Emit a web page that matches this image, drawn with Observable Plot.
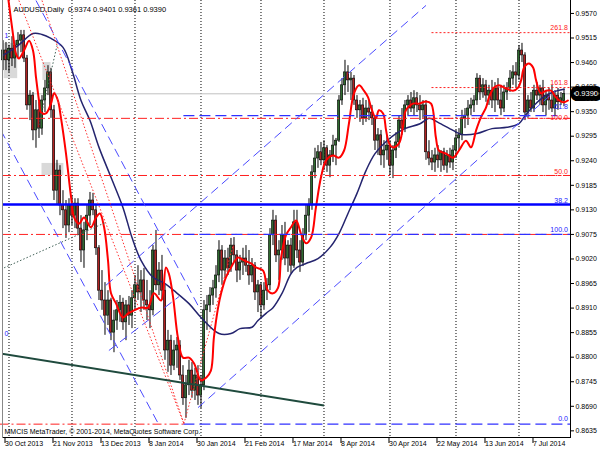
<!DOCTYPE html>
<html><head><meta charset="utf-8">
<script src="https://cdn.jsdelivr.net/npm/d3@7"></script>
<script src="https://cdn.jsdelivr.net/npm/@observablehq/plot@0.6"></script>
<style>
html,body{margin:0;padding:0;background:#fff;}
#chart{width:600px;height:450px;overflow:hidden;}
</style></head><body><div id="chart"></div>
<script>
// ---- daily OHLC, AUDUSD (bar index 0 = 30 Oct 2013) ----
const opens = [.9465,.9487,.9465,.9491,.9469,.9498,.9509,.9521,.9469,.9364,.9386,.9308,.9353,.9312,.9375,.9402,.9438,.9353,.9173,.9218,
.9140,.9129,.9095,.9140,.9117,.9144,.9088,.9039,.9084,.9117,.9151,.9129,.9044,.8949,.8927,.8893,.8927,.8855,.8882,.8905,
.8922,.8878,.8916,.8893,.8932,.8961,.8945,.8972,.8927,.8916,.8905,.9039,.8961,.8994,.8949,.8815,.8837,.8781,.8815,.8826,
.8759,.8708,.8737,.8770,.8725,.8759,.8714,.8737,.8905,.8916,.8938,.8954,.8983,.9039,.8994,.9021,.8999,.9050,.9028,.8994,
.9012,.9021,.9005,.8983,.9005,.8945,.8961,.8916,.8949,.8961,.9073,.9106,.9028,.9039,.9073,.9021,.9050,.9005,.9102,.9039,
.9012,.9073,.9117,.9140,.9214,.9245,.9259,.9241,.9268,.9229,.9252,.9274,.9285,.9375,.9409,.9438,.9420,.9424,.9375,.9353,
.9364,.9335,.9357,.9348,.9335,.9285,.9297,.9252,.9263,.9274,.9229,.9263,.9281,.9330,.9312,.9364,.9375,.9357,.9380,.9364,
.9353,.9364,.9259,.9245,.9236,.9252,.9241,.9259,.9229,.9252,.9236,.9263,.9290,.9297,.9335,.9341,.9357,.9364,.9375,.9424,
.9393,.9409,.9386,.9397,.9375,.9402,.9375,.9357,.9393,.9402,.9424,.9438,.9431,.9487,.9476,.9348,.9375,.9357,.9397,.9386,
.9402,.9364,.9386,.9375,.9357,.9386,.9371,.9374];
const highs = [.9509,.9505,.9498,.9518,.9509,.9527,.9532,.9532,.9476,.9397,.9393,.9375,.9371,.9386,.9420,.9453,.9447,.9364,.9241,.9229,
.9173,.9151,.9155,.9162,.9155,.9155,.9117,.9102,.9140,.9169,.9167,.9140,.9050,.8994,.8967,.8949,.8932,.8905,.8927,.8938,
.8932,.8927,.8936,.8949,.8983,.9005,.8994,.8999,.8972,.8949,.9050,.9084,.9012,.9028,.8961,.8860,.8849,.8837,.8844,.8837,
.8781,.8759,.8793,.8788,.8775,.8781,.8759,.8927,.8938,.8956,.8972,.9005,.9061,.9050,.9039,.9044,.9066,.9068,.9039,.9028,
.9044,.9050,.9039,.9021,.9012,.8972,.8967,.8967,.8976,.9088,.9129,.9117,.9061,.9095,.9102,.9061,.9066,.9129,.9129,.9061,
.9088,.9140,.9155,.9229,.9268,.9274,.9281,.9285,.9274,.9263,.9297,.9290,.9386,.9424,.9465,.9453,.9438,.9431,.9386,.9375,
.9380,.9375,.9375,.9364,.9341,.9312,.9308,.9285,.9297,.9285,.9274,.9303,.9341,.9357,.9375,.9386,.9393,.9397,.9393,.9386,
.9375,.9375,.9285,.9263,.9268,.9274,.9263,.9268,.9263,.9268,.9274,.9308,.9312,.9353,.9357,.9375,.9380,.9386,.9435,.9431,
.9424,.9420,.9409,.9420,.9415,.9424,.9409,.9409,.9415,.9442,.9453,.9460,.9498,.9503,.9482,.9386,.9393,.9409,.9415,.9409,
.9420,.9397,.9402,.9409,.9397,.9402,.9393,.9401];
const lows = [.9442,.9442,.9438,.9451,.9447,.9469,.9482,.9460,.9353,.9330,.9285,.9268,.9290,.9297,.9348,.9386,.9335,.9151,.9140,.9117,
.9088,.9066,.9079,.9095,.9088,.9073,.9012,.8999,.9061,.9095,.9117,.9028,.8927,.8905,.8849,.8871,.8837,.8810,.8860,.8878,
.8860,.8837,.8871,.8864,.8905,.8927,.8900,.8905,.8882,.8864,.8893,.8949,.8938,.8927,.8793,.8766,.8759,.8770,.8775,.8748,
.8692,.8663,.8714,.8708,.8703,.8692,.8685,.8725,.8860,.8900,.8916,.8932,.8967,.8961,.8976,.8983,.8990,.9012,.8967,.8972,
.8983,.8990,.8961,.8967,.8927,.8900,.8887,.8905,.8927,.8949,.9050,.9012,.8972,.9017,.9005,.8990,.8987,.8999,.9021,.8990,
.9003,.9061,.9079,.9129,.9200,.9223,.9229,.9218,.9214,.9202,.9236,.9229,.9281,.9364,.9386,.9393,.9375,.9364,.9335,.9326,
.9319,.9326,.9330,.9319,.9263,.9252,.9229,.9223,.9241,.9207,.9200,.9245,.9268,.9297,.9303,.9341,.9348,.9341,.9348,.9330,
.9335,.9241,.9229,.9218,.9214,.9223,.9214,.9218,.9212,.9223,.9218,.9245,.9263,.9285,.9312,.9319,.9341,.9348,.9364,.9375,
.9380,.9371,.9364,.9357,.9348,.9364,.9341,.9348,.9375,.9393,.9409,.9402,.9420,.9460,.9330,.9335,.9348,.9348,.9375,.9364,
.9348,.9341,.9353,.9348,.9341,.9353,.9364,.9361];
const closes = [.9487,.9465,.9491,.9469,.9498,.9509,.9521,.9469,.9364,.9386,.9308,.9353,.9312,.9375,.9402,.9438,.9353,.9173,.9218,.9140,
.9129,.9095,.9140,.9117,.9144,.9088,.9039,.9084,.9117,.9151,.9129,.9044,.8949,.8927,.8893,.8927,.8855,.8882,.8905,.8922,
.8878,.8916,.8893,.8932,.8961,.8945,.8972,.8927,.8916,.8905,.9039,.8961,.8994,.8949,.8815,.8837,.8781,.8815,.8826,.8759,
.8708,.8737,.8770,.8725,.8759,.8714,.8737,.8905,.8916,.8938,.8954,.8983,.9039,.8994,.9021,.8999,.9050,.9028,.8994,.9012,
.9021,.9005,.8983,.9005,.8945,.8961,.8916,.8949,.8961,.9073,.9106,.9028,.9039,.9073,.9021,.9050,.9005,.9102,.9039,.9012,
.9073,.9117,.9140,.9214,.9245,.9259,.9241,.9268,.9229,.9252,.9274,.9285,.9375,.9409,.9438,.9420,.9424,.9375,.9353,.9364,
.9335,.9357,.9348,.9335,.9285,.9297,.9252,.9263,.9274,.9229,.9263,.9281,.9330,.9312,.9364,.9375,.9357,.9380,.9364,.9353,
.9364,.9259,.9245,.9236,.9252,.9241,.9259,.9229,.9252,.9236,.9263,.9290,.9297,.9335,.9341,.9357,.9364,.9375,.9424,.9393,
.9409,.9386,.9397,.9375,.9402,.9375,.9357,.9393,.9402,.9424,.9438,.9431,.9487,.9476,.9348,.9375,.9357,.9397,.9386,.9402,
.9364,.9386,.9375,.9357,.9386,.9371,.9380,.9390];

// ---- axis labels ----
const dateLabelBars = [0,16,32,48,64,80,96,112,128,144,160,176];
const dateLabels = ["30 Oct 2013","21 Nov 2013","13 Dec 2013","8 Jan 2014","30 Jan 2014","21 Feb 2014","17 Mar 2014","8 Apr 2014","30 Apr 2014","22 May 2014","13 Jun 2014","7 Jul 2014"];
const monthStartBars = [2,23,44,66,86,107,129,151,172];
const priceTicks = [0.8635,0.8690,0.8745,0.8800,0.8855,0.8910,0.8965,0.9020,0.9075,0.9130,0.9185,0.9240,0.9295,0.9350,0.9405,0.9460,0.9515,0.9570];

// ---- moving averages (bar, value) ----
const slowBars = [0,5,10,13,16,20,23,26,29,32,36,40,43,46,50,54,57,62,66,72,76,79,83,85,88,90,93,96,98,101,105,109,112,115,118,121,124,128,131,134,139,142,145,150,153,158,163,168,172,174,177,180,183,187];
const slowVals = [.9476,.9498,.9525,.9523,.9514,.9494,.9442,.9375,.9330,.9270,.9203,.9135,.9068,.9017,.8979,.8965,.8949,.8920,.8889,.8853,.8853,.8864,.8867,.8882,.8900,.8911,.8943,.8987,.9001,.9010,.9021,.9046,.9077,.9122,.9167,.9218,.9256,.9285,.9301,.9312,.9323,.9335,.9326,.9308,.9299,.9301,.9312,.9315,.9323,.9341,.9364,.9382,.9393,.9400];
const fastBars = [1.7,3.3,4.3,5.3,7,8.7,10,11,12,12.7,14.3,16,17,18.3,19.3,21,22.7,23.7,25.3,27,29.3,31,32.3,33.7,35,36,37.7,40,41.7,43.7,46,48.3,50.3,52.7,54.3,55.3,56.7,58.3,60,62,63.7,66,67.7,69.3,70.3,71.7,72.7,74.3,76,78.3,80.3,82.7,84.3,86.7,88.3,90,91.7,92.7,94.3,96,97.7,99.3,101,102.7,104.3,106,107.7,110,112,113.7,115.3,117,118.7,120.3,121.7,122.7,124.3,125.3,126.7,127.7,128.7,130,132,133.3,134.3,136.7,138.7,141,142.7,144.3,145.3,147.7,150,152,154.3,156,157.7,159.3,161,162,163.7,165.3,167.7,170,171.7,172.7,173.7,175.3,176.7,177.7,179.3,181,182.7,184.3,186.7,188.3];
const fastVals = [.9606,.9525,.9480,.9469,.9487,.9509,.9487,.9427,.9375,.9348,.9346,.9368,.9391,.9375,.9337,.9256,.9158,.9113,.9099,.9113,.9091,.9113,.9122,.9091,.9017,.8943,.8920,.8889,.8898,.8905,.8911,.8911,.8943,.8927,.9001,.8987,.8934,.8844,.8799,.8799,.8786,.8748,.8754,.8770,.8844,.8911,.8943,.8979,.9001,.9023,.9017,.9010,.9001,.8994,.8949,.8943,.8956,.9023,.9073,.9091,.9106,.9077,.9055,.9068,.9135,.9203,.9241,.9252,.9247,.9263,.9323,.9391,.9409,.9397,.9382,.9359,.9335,.9353,.9346,.9308,.9279,.9270,.9279,.9315,.9353,.9368,.9368,.9373,.9368,.9292,.9263,.9256,.9247,.9263,.9285,.9270,.9308,.9337,.9359,.9382,.9404,.9409,.9402,.9397,.9404,.9420,.9449,.9458,.9449,.9420,.9391,.9397,.9397,.9382,.9371,.9375];

// ---- chart objects: [bar1, price1, bar2, price2] ----
const channelLines = [[-0.7,.9308,51.7,.8652],[11,.9599,65,.8916],[34.3,.8961,141,.9588],[35.3,.8815,58.7,.8936],[65,.8687,184,.9396]];
const fanLines = [[5.3,.9599,60.3,.8651],[13,.9599,60.3,.8651],[60.3,.8651,76.7,.9050]];
const dottedLines = [[-0.7,.8997,34.3,.9102],[11.7,.9312,18,.9498]];
const solidLines = [[-0.7,.8808,107,.8692]];
const boxes = [[0.4,.9503,4.9,.9424],[13.3,.9460,16,.9420],[13,.9234,20.3,.9207]];

// ---- horizontal levels ----
const blueSolidLevel = 0.9142;
const redDashDotLevels = [.9335,.9207,.9075];
const redDashDotLow = 0.8650;
const blueDashLevels = [.9341,.9075,.8650];
const redDotLevels = [.9527,.9404];
const fibLabels = ["261.8","161.8","61.8","100.0","50.0","38.2","100.0","0.0"];
const fibLabelPrices = [.9527,.9404,.9341,.9335,.9207,.9142,.9075,.8650];
const fibLabelColors = ["#ff2020","#ff2020","#2020ff","#ff2020","#ff2020","#2020ff","#2020ff","#2020ff"];
const fibLabelShift = [-5,-5,-9,-1,-4,-4,-5,-5];
const bid = 0.9390;
const title = "AUDUSD,Daily  0.9374 0.9401 0.9361 0.9390";
const copyright = "MMCIS MetaTrader, \u00a9 2001-2014, MetaQuotes Software Corp.";

const bars = opens.map((o,i)=>({i,o,h:highs[i],l:lows[i],c:closes[i]}));
const slow = slowBars.map((b,i)=>({b,v:slowVals[i]}));
const fast = fastBars.map((b,i)=>({b,v:fastVals[i]}));
const seg = a => a.map(([x1,y1,x2,y2])=>({x1,y1,x2,y2}));
const fibs = fibLabels.map((t,k)=>({t,p:fibLabelPrices[k],c:fibLabelColors[k],dy:fibLabelShift[k]}));

const FONT = "'Liberation Sans', Arial, sans-serif";
const chart = Plot.plot({
  width: 600, height: 450,
  marginLeft: 2, marginRight: 30, marginTop: 0, marginBottom: 13,
  style: {fontFamily: FONT, fontSize: "7px", background: "#fff", color: "#000", overflow: "visible"},
  x: {type: "linear", domain: [-1/6, 189.1667], axis: null},
  y: {type: "linear", domain: [0.86201, 0.9599], axis: null},
  marks: [
    Plot.rect(boxes, {x1: d=>d[0], x2: d=>d[2], y1: d=>d[1], y2: d=>d[3], fill: "#d9d9d9"}),
    Plot.ruleX(monthStartBars, {stroke: "#000", strokeWidth: 1, strokeDasharray: "1,2"}),
    Plot.ruleY([bid], {stroke: "#c0c0c0", strokeWidth: 1}),
    // candles
    Plot.ruleX(bars, {x: "i", y1: "l", y2: "h", stroke: "#000", strokeWidth: 1}),
    Plot.rect(bars, {x1: d=>d.i-0.36, x2: d=>d.i+0.36, y1: "o", y2: "c",
      fill: d => d.c >= d.o ? "#2f6b2f" : "#b22222", stroke: "#000", strokeWidth: 0.6}),
    // moving averages
    Plot.line(slow, {x: "b", y: "v", stroke: "#24246e", strokeWidth: 1.5, curve: "catmull-rom", clip: true}),
    Plot.line(fast, {x: "b", y: "v", stroke: "#ff0000", strokeWidth: 2, curve: "catmull-rom", clip: true}),
    // horizontal levels
    Plot.ruleY(redDashDotLevels, {stroke: "#ff2020", strokeWidth: 1, strokeDasharray: "9,3,2,3"}),
    Plot.ruleY([redDashDotLow], {x1: -1, x2: 60.3, stroke: "#ff2020", strokeWidth: 1, strokeDasharray: "9,3,2,3"}),
    Plot.ruleY(blueDashLevels, {x1: 60.3, x2: d => d > 0.93 ? 185 : 189.2, stroke: "#3030ff", strokeWidth: 1.3, strokeDasharray: "11,5"}),
    Plot.ruleY(redDotLevels.concat(redDashDotLevels.slice(0,2)), {x1: 143, x2: 189.2, stroke: "#ff2020", strokeWidth: 1, strokeDasharray: "2,2"}),
    Plot.ruleY([blueSolidLevel], {stroke: "#0000ff", strokeWidth: 2.5}),
    // trend lines
    Plot.link(seg(channelLines), {x1:"x1", y1:"y1", x2:"x2", y2:"y2", stroke: "#4a4aff", strokeWidth: 1, strokeDasharray: "9,5", clip: true}),
    Plot.link(seg(fanLines), {x1:"x1", y1:"y1", x2:"x2", y2:"y2", stroke: "#ff3030", strokeWidth: 1, strokeDasharray: "1.5,2", clip: true}),
    Plot.link(seg(dottedLines), {x1:"x1", y1:"y1", x2:"x2", y2:"y2", stroke: "#3f5f55", strokeWidth: 1, strokeDasharray: "1.5,2", clip: true}),
    Plot.link(seg(solidLines), {x1:"x1", y1:"y1", x2:"x2", y2:"y2", stroke: "#1f4a3d", strokeWidth: 2, clip: true}),
    // fib labels
    ...fibs.map(f => Plot.text([f], {x: 188.3, y: "p", text: "t", fill: f.c, textAnchor: "end", dy: f.dy, fontSize: 7})),
    Plot.text([{t:"1",p:.9521},{t:"0",p:.8853}], {x: 0.5, y: "p", text: "t", fill: "#2020ff", textAnchor: "start", fontSize: 7}),
    // texts
    Plot.text([title], {frameAnchor: "top-left", dx: 11, dy: 9, textAnchor: "start", lineAnchor: "middle", fill: "#000", fontSize: 7.5}),
    Plot.text([copyright], {frameAnchor: "bottom-left", dx: 2, dy: -6, textAnchor: "start", lineAnchor: "middle", fill: "#000", fontSize: 7}),
    // axes
    Plot.axisY({anchor: "right", ticks: priceTicks, tickFormat: d => d.toFixed(4), tickSize: 3, tickPadding: 2, fontSize: 7}),
    Plot.axisX({anchor: "bottom", ticks: dateLabelBars, tickFormat: d => dateLabels[dateLabelBars.indexOf(d)], tickSize: 6, tickPadding: 0, textAnchor: "start", lineAnchor: "middle", dx: 2, dy: 0, fontSize: 7}),
    Plot.frame({anchor: "right", stroke: "#000"}),
    Plot.frame({anchor: "bottom", stroke: "#000"}),
    Plot.frame({anchor: "left", stroke: "#888"}),
    // current price label on the price axis
    Plot.text([bid], {y: d => d, frameAnchor: "right", dx: 16, text: d => d.toFixed(4), fill: "#fff", stroke: "#000", strokeWidth: 10, paintOrder: "stroke", strokeLinejoin: "miter", textAnchor: "middle", fontSize: 7.5})
  ]
});
document.getElementById("chart").appendChild(chart);
</script></body></html>
